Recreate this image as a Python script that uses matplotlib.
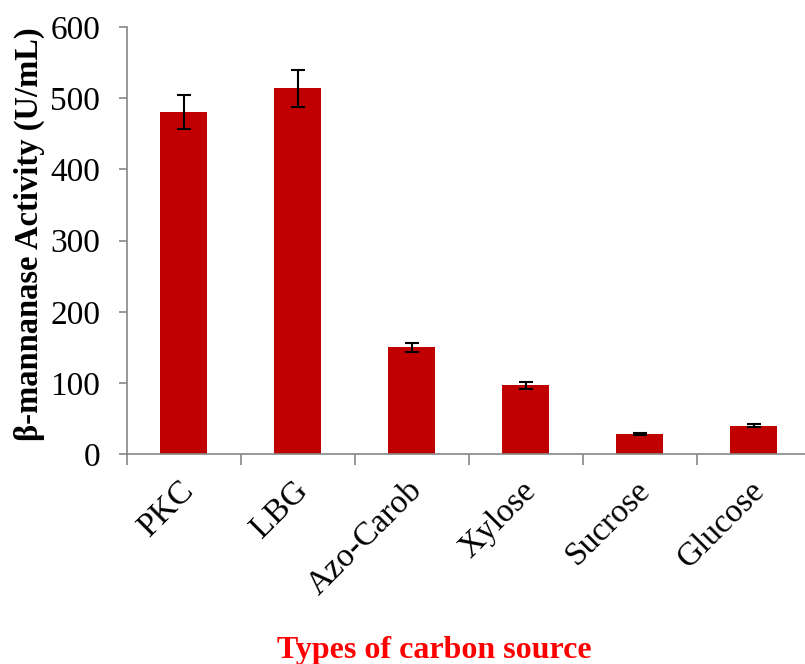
import matplotlib.pyplot as plt
import matplotlib.transforms as mtransforms
import numpy as np

# carbon sources and measured enzyme activity
categories = ["PKC", "LBG", "Azo-Carob", "Xylose", "Sucrose", "Glucose"]
activity = [481, 514, 150, 97, 29, 40]
errors = [24, 26, 7, 5, 1.5, 2]

plt.rcParams['font.family'] = ['Liberation Serif', 'DejaVu Serif']

fig = plt.figure(figsize=(8.05, 6.64), dpi=100)
ax = fig.add_axes([0.1574, 0.3158, 0.8497, 0.6435])

x = np.arange(len(categories))
ax.bar(x, activity, width=0.41, color='#C00000', zorder=2)
ax.errorbar(x, activity, yerr=errors, fmt='none', ecolor='black',
            elinewidth=1.5, capsize=5, capthick=1.5, zorder=3)

ax.set_xlim(-0.5, len(categories) - 0.5)
ax.set_ylim(0, 600)
ax.set_yticks(range(0, 601, 100))
ax.tick_params(axis='y', labelsize=24, length=6, width=1.2, color='#868686', pad=13)

# category ticks sit between the bars, labels at bar centres
ax.set_xticks(np.arange(len(categories) + 1) - 0.5)
ax.set_xticklabels([])
ax.set_xticks(x, minor=True)
ax.set_xticklabels(categories, minor=True, rotation=45, ha='right',
                   rotation_mode='anchor', fontsize=24)
ax.tick_params(axis='x', which='major', length=8, width=1.2, color='#868686')
ax.tick_params(axis='x', which='minor', length=0, pad=15)
shift = mtransforms.ScaledTranslation(-5 / 100, 0, fig.dpi_scale_trans)
for lbl in ax.get_xticklabels(minor=True):
    lbl.set_transform(lbl.get_transform() + shift)

for side in ['top', 'right']:
    ax.spines[side].set_visible(False)
for side in ['left', 'bottom']:
    ax.spines[side].set_color('#868686')
    ax.spines[side].set_linewidth(1.2)

ax.set_ylabel("β-mannanase Activity (U/mL)", fontsize=23.5, fontweight='bold')
ax.yaxis.set_label_coords(-0.12, 0.515)
fig.text(0.540, 0.020, "Types of carbon source", color='#FF0000', fontsize=23,
         fontweight='bold', ha='center', va='center')

fig.savefig("out.png", dpi=100)
